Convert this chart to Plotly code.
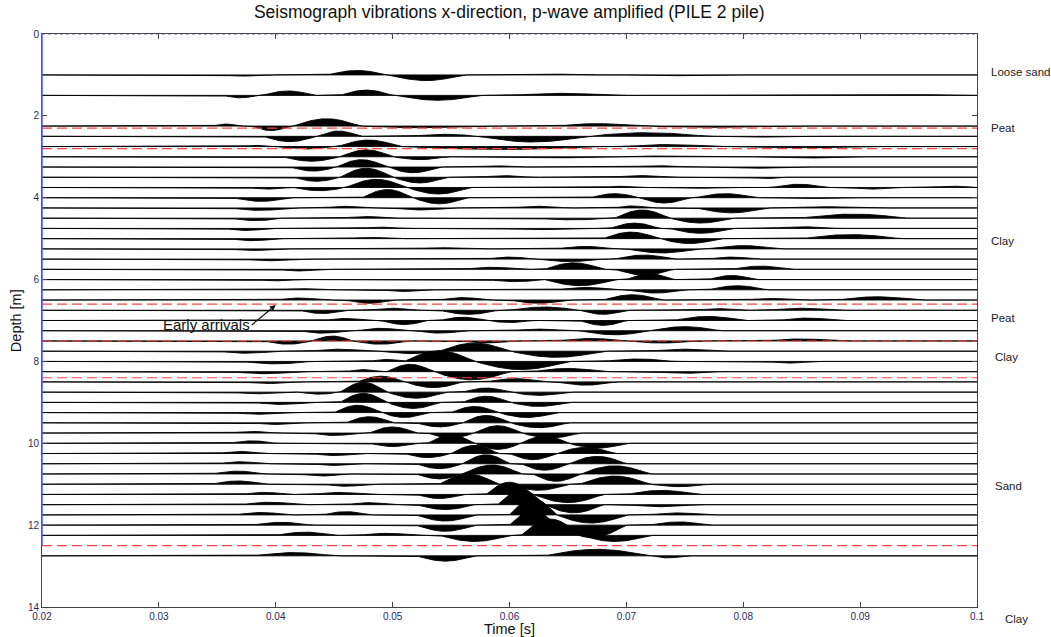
import numpy as np
import plotly.graph_objects as go

# Seismograph traces, one per sensor depth. Each lobe: (start time [s], end time [s], amplitude [m]);
# positive amplitude swings up (towards shallower depth).
lobes_1_00 = [(.0354, .0386, -.03), (.0444, .0495, .11), (.0497, .0560, -.14), (.0624, .0675, .02), (.0709, .0800, -.02)]
lobes_1_50 = [(.0355, .0384, -.06), (.0389, .0432, .11), (.0455, .0500, .13), (.0503, .0574, -.12), (.0600, .0689, .05), (.0931, .0999, .02)]
lobes_2_25 = [(.0346, .0369, .05), (.0380, .0412, -.11), (.0415, .0472, .18), (.0474, .0566, -.04), (.0640, .0711, .06), (.0714, .0834, -.03)]
lobes_2_50 = [(.0389, .0435, -.13), (.0435, .0472, .13), (.0515, .0574, .05), (.0574, .0666, -.14), (.0666, .0769, .09), (.0791, .0860, -.02)]
lobes_2_75 = [(.0373, .0392, .03), (.0399, .0450, -.06), (.0453, .0506, .16), (.0508, .0677, -.07), (.0700, .0774, .05), (.0805, .0893, -.03)]
lobes_3_00 = [(.0406, .0455, -.11), (.0455, .0500, .17), (.0500, .0546, -.07), (.0605, .0669, -.03), (.0703, .0783, .025), (.0831, .0880, -.03)]
lobes_3_25 = [(.0412, .0452, -.10), (.0452, .0495, .18), (.0495, .0540, -.14), (.0574, .0603, .03), (.0700, .0754, .03), (.0785, .0834, -.03)]
lobes_3_50 = [(.0415, .0455, -.10), (.0455, .0500, .22), (.0500, .0546, -.14), (.0574, .0617, .04), (.0688, .0737, .04), (.0803, .0837, -.03)]
lobes_3_75 = [(.0375, .0412, -.04), (.0415, .0460, -.08), (.0460, .0512, .20), (.0512, .0566, -.16), (.0680, .0705, .03),
              (.0745, .0797, -.02), (.0825, .0871, .08), (.0891, .0931, -.04), (.0960, .1000, .03)]
lobes_4_00 = [(.0363, .0412, -.09), (.0474, .0517, .20), (.0517, .0563, -.15), (.0669, .0711, .10), (.0711, .0754, -.13),
              (.0759, .0810, .10), (.0840, .0900, -.02)]
lobes_4_25 = [(.0361, .0412, -.06), (.0440, .0480, .04), (.0500, .0550, -.05), (.0600, .0650, .04), (.0690, .0720, .05),
              (.0760, .0820, -.12), (.0840, .0900, .03)]
lobes_4_50 = [(.0361, .0405, -.06), (.0455, .0500, .04), (.0620, .0690, -.04), (.0690, .0737, .20), (.0737, .0790, -.12),
              (.0848, .0940, .10)]
lobes_4_75 = [(.0355, .0395, -.05), (.0470, .0510, .03), (.0600, .0650, -.03), (.0686, .0728, .13), (.0737, .0790, -.12),
              (.0820, .0880, .04)]
lobes_5_00 = [(.0360, .0400, -.05), (.0460, .0500, .03), (.0680, .0728, .16), (.0728, .0780, -.12), (.0850, .0934, .10)]
lobes_5_25 = [(.0360, .0400, -.04), (.0520, .0560, .03), (.0640, .0690, .06), (.0700, .0760, -.10), (.0770, .0830, .08)]
lobes_5_50 = [(.0370, .0420, -.04), (.0580, .0620, .05), (.0620, .0680, -.06), (.0690, .0740, .10), (.0770, .0810, .05)]
lobes_5_75 = [(.0400, .0440, -.04), (.0560, .0610, .05), (.0630, .0680, .16), (.0690, .0740, -.14), (.0790, .0840, .08)]
lobes_6_00 = [(.0380, .0420, -.03), (.0580, .0630, -.05), (.0630, .0690, -.15), (.0700, .0740, .14), (.0770, .0810, .10)]
lobes_6_25 = [(.0400, .0440, .03), (.0490, .0530, -.04), (.0640, .0690, .06), (.0700, .0750, -.08), (.0770, .0820, .10)]
lobes_6_50 = [(.0400, .0440, .05), (.0460, .0500, -.08), (.0540, .0580, .06), (.0600, .0650, -.08), (.0680, .0730, .13),
              (.0800, .0850, .04), (.0880, .0950, .08)]
lobes_6_75 = [(.0420, .0460, -.08), (.0480, .0520, .05), (.0540, .0590, -.10), (.0600, .0660, .08), (.0660, .0700, -.10),
              (.0760, .0800, .04), (.0820, .0880, .05)]
lobes_7_00 = [(.0440, .0480, .05), (.0490, .0530, -.10), (.0540, .0580, .08), (.0580, .0620, -.05), (.0660, .0700, -.12),
              (.0740, .0800, .10), (.0830, .0880, .06)]
lobes_7_25 = [(.0420, .0460, -.06), (.0470, .0510, .06), (.0520, .0560, -.06), (.0600, .0650, .04), (.0660, .0720, -.10),
              (.0720, .0780, .10)]
lobes_7_50 = [(.0390, .0431, -.08), (.0431, .0466, .12), (.0466, .0513, -.08), (.0560, .0600, -.05), (.0640, .0700, .06),
              (.0700, .0760, -.05), (.0820, .0880, .05)]
lobes_7_75 = [(.0350, .0400, -.05), (.0430, .0480, .05), (.0490, .0540, -.06), (.0540, .0600, .20), (.0600, .0680, -.15),
              (.0720, .0780, .05)]
lobes_8_00 = [(.0370, .0430, -.06), (.0480, .0510, .05), (.0510, .0570, .26), (.0570, .0650, -.20), (.0680, .0740, .06),
              (.0820, .0860, -.04)]
lobes_8_25 = [(.0360, .0420, -.05), (.0460, .0490, .05), (.0495, .0535, .18), (.0535, .0600, -.20), (.0620, .0680, .08),
              (.0720, .0780, -.04)]
lobes_8_50 = [(.0370, .0420, -.04), (.0470, .0510, .14), (.0510, .0560, -.14), (.0580, .0630, .08), (.0640, .0690, -.08)]
lobes_8_75 = [(.0360, .0410, -.04), (.0420, .0455, -.05), (.0455, .0495, .24), (.0495, .0545, -.15), (.0560, .0600, .10),
              (.0600, .0650, -.08)]
lobes_9_00 = [(.0380, .0430, -.05), (.0455, .0495, .22), (.0495, .0540, -.15), (.0560, .0600, .15), (.0600, .0650, -.10)]
lobes_9_25 = [(.0360, .0410, -.04), (.0450, .0490, .18), (.0490, .0530, -.12), (.0550, .0590, .15), (.0590, .0640, -.12)]
lobes_9_50 = [(.0380, .0420, -.04), (.0460, .0500, .15), (.0520, .0560, -.10), (.0560, .0600, .18), (.0600, .0650, -.12)]
lobes_9_75 = [(.0360, .0400, .04), (.0430, .0470, -.06), (.0480, .0520, .15), (.0530, .0570, -.12), (.0570, .0610, .18),
              (.0610, .0660, -.12)]
lobes_10_00 = [(.0360, .0400, .06), (.0480, .0520, -.08), (.0530, .0570, .20), (.0570, .0610, -.15), (.0610, .0650, .18),
               (.0650, .0700, -.12)]
lobes_10_25 = [(.0350, .0390, .05), (.0430, .0470, -.05), (.0510, .0550, -.10), (.0550, .0590, .20), (.0600, .0640, -.15),
               (.0640, .0690, .15)]
lobes_10_50 = [(.0350, .0390, .05), (.0430, .0470, -.04), (.0520, .0560, -.12), (.0560, .0600, .22), (.0610, .0650, -.16),
               (.0650, .0700, .18)]
lobes_10_75 = [(.0345, .0390, .07), (.0420, .0460, -.05), (.0520, .0560, -.12), (.0560, .0610, .22), (.0620, .0660, -.18),
               (.0660, .0720, .20)]
lobes_11_00 = [(.0345, .0390, .08), (.0440, .0480, -.05), (.0540, .0590, .25), (.0600, .0650, -.15), (.0660, .0720, .20),
               (.0720, .0770, -.06)]
lobes_11_25 = [(.0370, .0410, .05), (.0430, .0480, .05), (.0520, .0560, -.10), (.0580, .0620, .30), (.0620, .0680, -.20),
               (.0700, .0760, .10)]
lobes_11_50 = [(.0370, .0420, .06), (.0460, .0500, .05), (.0520, .0570, -.12), (.0590, .0630, .35), (.0630, .0680, -.20),
               (.0700, .0760, -.05)]
lobes_11_75 = [(.0365, .0410, .06), (.0440, .0480, .08), (.0520, .0570, -.15), (.0600, .0640, .40), (.0640, .0700, -.20),
               (.0720, .0770, .05)]
lobes_12_00 = [(.0380, .0430, .07), (.0520, .0570, -.15), (.0600, .0640, .35), (.0640, .0700, -.30), (.0720, .0770, .08)]
lobes_12_25 = [(.0400, .0450, .08), (.0470, .0520, .05), (.0540, .0600, -.15), (.0610, .0660, .40), (.0660, .0720, -.15)]
lobes_12_75 = [(.0380, .0450, .08), (.0520, .0570, -.13), (.0630, .0720, .16), (.0720, .0750, -.05)]

trace_depths = [1.0, 1.5, 2.25, 2.5, 2.75, 3.0, 3.25, 3.5, 3.75, 4.0, 4.25, 4.5, 4.75, 5.0, 5.25, 5.5, 5.75,
                6.0, 6.25, 6.5, 6.75, 7.0, 7.25, 7.5, 7.75, 8.0, 8.25, 8.5, 8.75, 9.0, 9.25, 9.5, 9.75,
                10.0, 10.25, 10.5, 10.75, 11.0, 11.25, 11.5, 11.75, 12.0, 12.25, 12.75]
trace_lobes = [lobes_1_00, lobes_1_50, lobes_2_25, lobes_2_50, lobes_2_75, lobes_3_00, lobes_3_25, lobes_3_50,
               lobes_3_75, lobes_4_00, lobes_4_25, lobes_4_50, lobes_4_75, lobes_5_00, lobes_5_25, lobes_5_50,
               lobes_5_75, lobes_6_00, lobes_6_25, lobes_6_50, lobes_6_75, lobes_7_00, lobes_7_25, lobes_7_50,
               lobes_7_75, lobes_8_00, lobes_8_25, lobes_8_50, lobes_8_75, lobes_9_00, lobes_9_25, lobes_9_50,
               lobes_9_75, lobes_10_00, lobes_10_25, lobes_10_50, lobes_10_75, lobes_11_00, lobes_11_25,
               lobes_11_50, lobes_11_75, lobes_12_00, lobes_12_25, lobes_12_75]

# Soil layer boundaries and names
boundary_depths = [2.3, 2.8, 6.6, 7.5, 8.4, 12.5]
layer_names = ["Loose sand", "Peat", "Clay", "Peat", "Clay", "Sand", "Clay"]
layer_label_depths = [0.93, 2.29, 5.05, 6.95, 7.9, 11.05, 14.3]
layer_label_shift = [0, 0, 0, 0, 4, 4, 14]

time_ticks = [0.02, 0.03, 0.04, 0.05, 0.06, 0.07, 0.08, 0.09, 0.1]
time_tick_text = ["0.02", "0.03", "0.04", "0.05", "0.06", "0.07", "0.08", "0.09", "0.1"]
depth_ticks = [0, 2, 4, 6, 8, 10, 12, 14]

T_MIN, T_MAX = 0.02, 0.1
D_MAX = 14

t = np.linspace(T_MIN, T_MAX, 2401)


def wiggle(lobes):
    w = np.zeros_like(t)
    for t0, t1, a in lobes:
        m = (t >= t0) & (t <= t1)
        w[m] += a * np.sin(np.pi * (t[m] - t0) / (t1 - t0))
    return w


fig = go.Figure()

for depth, lobes in zip(trace_depths, trace_lobes):
    y = depth - wiggle(lobes)
    xs = np.concatenate([t, t[::-1]])
    ys = np.concatenate([y, np.full_like(t, depth)])
    fig.add_trace(go.Scatter(x=xs, y=ys, mode="lines", fill="toself", fillcolor="black",
                             line=dict(color="black", width=0.9), hoverinfo="skip", showlegend=False))

for b in boundary_depths:
    fig.add_trace(go.Scatter(x=[T_MIN, T_MAX], y=[b, b], mode="lines",
                             line=dict(color="#ff4444", width=1.1, dash="10px,5px"),
                             hoverinfo="skip", showlegend=False))

shapes = [
    # blue sensor column along the left edge
    dict(type="line", xref="paper", yref="y", x0=0, x1=0, y0=0, y1=12.5,
         line=dict(color="#5555ff", width=1.5)),
    # dotted top edge
    dict(type="line", xref="paper", yref="y", x0=0, x1=1, y0=0, y1=0,
         line=dict(color="#8a6aa8", width=1.2, dash="dot")),
]

annotations = [
    dict(text="Time [s]", xref="paper", yref="paper", x=0.5, y=-0.0215, xanchor="center", yanchor="top",
         showarrow=False, font=dict(size=14.5, color="#111")),
    dict(text="Depth [m]", xref="paper", yref="paper", x=-0.0175, y=0.5, xanchor="right", yanchor="middle",
         textangle=-90, showarrow=False, font=dict(size=14.5, color="#111")),
    dict(text="Early arrivals", x=0.0400, y=6.62, xref="x", yref="y", ax=-24, ay=20,
         xanchor="right", yanchor="middle", showarrow=True, arrowhead=2, arrowsize=1, arrowwidth=1.2,
         arrowcolor="#111", font=dict(size=15, color="#111")),
]
for name, d, dx in zip(layer_names, layer_label_depths, layer_label_shift):
    annotations.append(dict(text=name, xref="paper", yref="paper", x=1.0125 + dx / 935, y=1 - d / D_MAX,
                            xanchor="left", yanchor="middle", showarrow=False,
                            font=dict(size=11.5, color="#222")))

fig.update_layout(
    width=1051, height=637,
    margin=dict(l=42, r=74, t=34, b=30),
    paper_bgcolor="white", plot_bgcolor="white",
    font=dict(family="Liberation Sans, Arial, sans-serif", color="#111"),
    title=dict(text="Seismograph vibrations x-direction, p-wave amplified (PILE 2 pile)",
               x=0.4845, xanchor="center", y=0.981, yanchor="middle", yref="container",
               font=dict(size=17.5, color="#111")),
    xaxis=dict(range=[T_MIN, T_MAX], tickvals=time_ticks, ticktext=time_tick_text,
               ticks="inside", ticklen=5, tickcolor="#444", mirror="ticks", showline=True,
               linecolor="#444", linewidth=1, showgrid=False, zeroline=False,
               tickfont=dict(size=10, color="#2a2a5a")),
    yaxis=dict(range=[D_MAX, 0], tickvals=depth_ticks, ticks="inside", ticklen=5, tickcolor="#444",
               mirror="ticks", showline=True, linecolor="#444", linewidth=1, showgrid=False,
               zeroline=False, tickfont=dict(size=10, color="#2a2a5a")),
    shapes=shapes,
    annotations=annotations,
)

fig.write_html("out.html")
